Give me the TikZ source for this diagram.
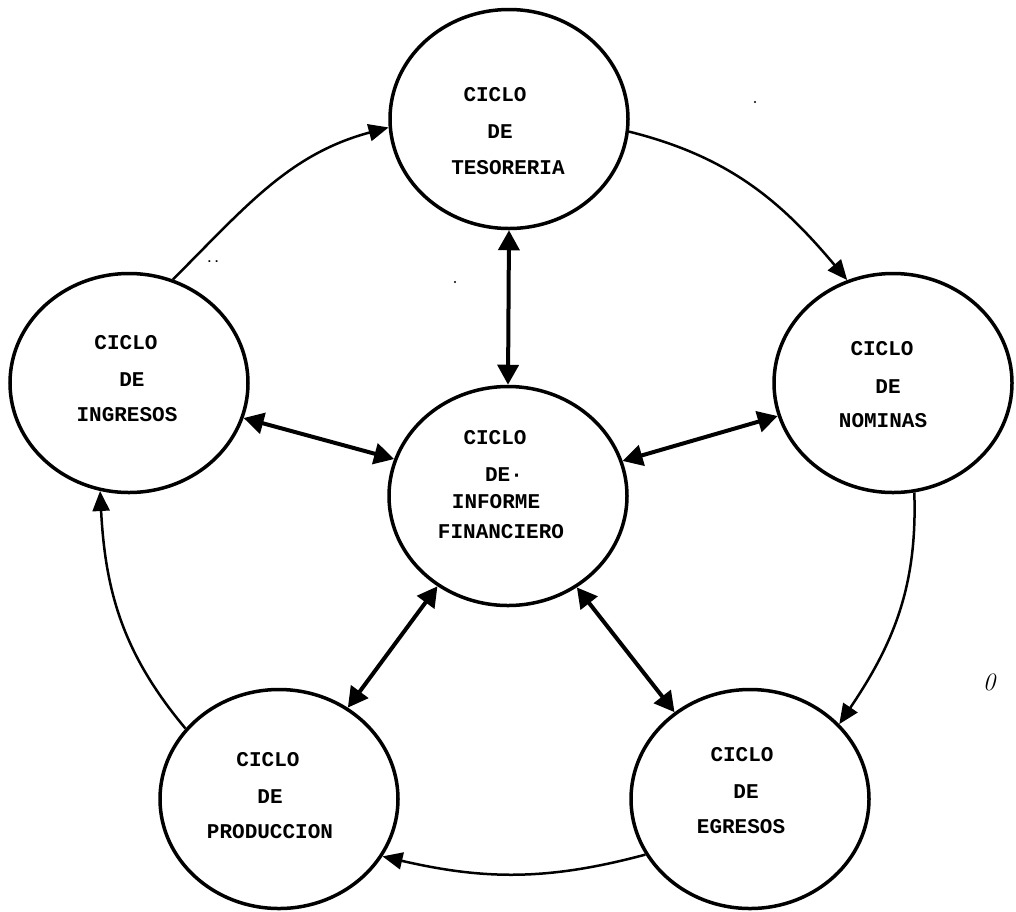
\documentclass[tikz,border=0pt]{standalone}
\usepackage{fontspec}
\newfontfamily\twfont{Liberation Mono}
\usetikzlibrary{shapes.geometric,arrows.meta}
\begin{document}
\begin{tikzpicture}[x=1pt,y=1pt,
  cyc/.style={ellipse,draw,line width=3.5pt,minimum width=238pt,minimum height=219pt,inner sep=0pt},
  lbl/.style={font=\twfont\bfseries\fontsize{21}{21}\selectfont,inner sep=0pt,anchor=center},
  flow/.style={line width=2.5pt,-{Triangle[length=20pt,width=17pt]}},
  link/.style={line width=4pt,{Triangle[length=20pt,width=21pt]}-{Triangle[length=20pt,width=21pt]}}]
\useasboundingbox (0,0) rectangle (1016,-911);
% cycles
\node[cyc] (tes) at (509,-119) {};
\node[cyc] (inf) at (508,-496) {};
\node[cyc] (ing) at (129,-383) {};
\node[cyc] (nom) at (893,-383) {};
\node[cyc] (pro) at (279,-799) {};
\node[cyc] (egr) at (750,-799) {};
% labels
\node[lbl] (tes1) at (495,-95) {CICLO};
\node[lbl] (tes2) at (500,-132) {DE};
\node[lbl] (tes3) at (508,-168) {TESORERIA};
\node[lbl] (ing1) at (126,-343) {CICLO};
\node[lbl] (ing2) at (132,-380) {DE};
\node[lbl] (ing3) at (127,-415) {INGRESOS};
\node[lbl] (nom1) at (882,-349) {CICLO};
\node[lbl] (nom2) at (888,-387) {DE};
\node[lbl] (nom3) at (883,-421) {NOMINAS};
\node[lbl] (inf1) at (495,-438) {CICLO};
\node[lbl] (inf2) at (504,-475) {DE·};
\node[lbl] (inf3) at (496,-502) {INFORME};
\node[lbl] (inf4) at (501,-532) {FINANCIERO};
\node[lbl] (pro1) at (268,-760) {CICLO};
\node[lbl] (pro2) at (270,-797) {DE};
\node[lbl] (pro3) at (270,-832) {PRODUCCION};
\node[lbl] (egr1) at (742,-755) {CICLO};
\node[lbl] (egr2) at (746,-792) {DE};
\node[lbl] (egr3) at (741,-827) {EGRESOS};
% outer cycle
\draw[flow] (ing.67) to[out=45,in=195] (tes.184);
\draw[flow] (tes.-6) to[out=-14,in=130] (nom.114);
\draw[flow] (nom.-79) to[out=-88,in=56] (egr.40);
\draw[flow] (egr.208) to[out=195,in=-13] (pro.-29);
\draw[flow] (pro.143) to[out=130,in=-87] (ing.255);
% links to centre
\draw[link] (tes.south) -- (inf.north);
\draw[link] (ing.-17) -- (inf.162);
\draw[link] (nom.196) -- (inf.17);
\draw[link] (inf.232) -- (pro.53);
\draw[link] (inf.307) -- (egr.131);
% marks
\node[font=\twfont\bfseries\fontsize{12}{12}\selectfont,inner sep=0pt] (dots) at (213,-262) {..};
\node[font=\itshape\fontsize{25}{25}\selectfont,inner sep=0pt] (zero) at (989,-682) {0};
\fill (455,-282) circle (1.2pt);
\fill (755,-102) circle (1.2pt);
\end{tikzpicture}
\end{document}
